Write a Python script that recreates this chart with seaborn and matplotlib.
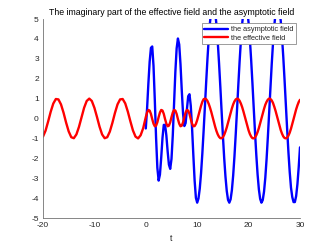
import numpy as np
import matplotlib
matplotlib.use("Agg")
import matplotlib.pyplot as plt
import seaborn as sns

# --- data ---
# effective field (red): t from -20 to -0.5 in steps of 0.5, then 0..30 in steps of 0.25
t_neg = np.arange(-20, 0, 0.5)
effective_neg = [-0.91, -0.61, -0.15, 0.34, 0.75, 0.98, 0.96, 0.71, 0.29, -0.21,
                 -0.65, -0.94, -0.99, -0.80, -0.42, 0.07, 0.54, 0.88, 1.00, 0.88,
                 0.54, 0.08, -0.41, -0.80, -0.99, -0.94, -0.66, -0.22, 0.28, 0.71,
                 0.96, 0.98, 0.76, 0.35, -0.14, -0.60, -0.91, -1.00, -0.84, -0.48]

t_pos = np.arange(0, 30.001, 0.25)
effective_pos = [0.07, 0.30, 0.43, 0.40, 0.23, -0.03, -0.26, -0.39, -0.36, -0.19,
                 0.07, 0.30, 0.43, 0.40, 0.23, -0.03, -0.26, -0.39, -0.36, -0.19,
                 0.07, 0.30, 0.43, 0.40, 0.23, -0.03, -0.26, -0.39, -0.36, -0.19,
                 0.07, 0.30, 0.43, 0.40, 0.23, -0.03, -0.26, -0.39,
                 -0.38, -0.27, -0.08, 0.15, 0.40, 0.64, 0.84, 0.97,
                 1.00, 0.97, 0.88, 0.73, 0.54, 0.32, 0.07, -0.18, -0.42, -0.63,
                 -0.80, -0.92, -0.99, -0.99, -0.94, -0.82, -0.65, -0.45, -0.21, 0.04,
                 0.28, 0.51, 0.71, 0.86, 0.96, 1.00, 0.98, 0.89, 0.75, 0.57,
                 0.35, 0.11, -0.15, -0.39, -0.60, -0.78, -0.91, -0.99, -1.00, -0.95,
                 -0.84, -0.68, -0.48, -0.25, 0.00, 0.25, 0.48, 0.69, 0.84, 0.95,
                 1.00, 0.98, 0.91, 0.78, 0.59, 0.38, 0.14, -0.11, -0.36, -0.58,
                 -0.76, -0.90, -0.98, -1.00, -0.96, -0.86, -0.71, -0.51, -0.28, -0.03,
                 0.22, 0.46, 0.66, 0.83, 0.94]

# asymptotic field (blue): t from 0 to 30 in steps of 0.25
asymptotic = [-0.50, 0.50, 1.75, 2.85, 3.55, 3.62, 2.65, 0.95, -0.97, -2.48,
              -3.12, -2.82, -1.97, -0.97, -0.32, -0.32, -0.85, -1.65, -2.32, -2.53,
              -2.03, -0.85, 0.75, 2.33, 3.52, 4.02, 3.72, 2.73, 1.41, 0.24,
              -0.38, -0.23, 0.46, 1.12, 1.22, 0.64, -0.47, -1.84, -3.12, -3.99,
              -4.23, -4.02, -3.52, -2.75, -1.76, -0.62, 0.60, 1.84, 3.01, 4.04,
              4.86, 5.43, 5.70, 5.67, 5.34, 4.71, 3.85, 2.78, 1.60, 0.36,
              -0.86, -1.98, -2.92, -3.64, -4.09, -4.23, -4.06, -3.60, -2.86, -1.90,
              -0.78, 0.44, 1.68, 2.86, 3.91, 4.76, 5.37, 5.69, 5.70, 5.40,
              4.81, 3.97, 2.93, 1.76, 0.52, -0.70, -1.83, -2.81, -3.56, -4.04,
              -4.23, -4.10, -3.68, -2.98, -2.04, -0.92, 0.29, 1.53, 2.73, 3.79,
              4.67, 5.31, 5.66, 5.72, 5.47, 4.92, 4.10, 3.08, 1.92, 0.69,
              -0.54, -1.69, -2.69, -3.48, -3.95, -4.20, -4.20, -3.90, -3.30, -2.45,
              -1.45]

x_ticks = [-20, -10, 0, 10, 20, 30]
y_ticks = [-5, -4, -3, -2, -1, 0, 1, 2, 3, 4, 5]

t_eff = np.concatenate([t_neg, t_pos])
effective = effective_neg + effective_pos

sns.set_theme(style="white")
plt.rcParams['font.family'] = ['Liberation Sans', 'DejaVu Sans']
plt.rcParams['axes.unicode_minus'] = False

fig = plt.figure(figsize=(3.32, 2.45), dpi=100)
ax = fig.add_axes([0.1295, 0.1102, 0.7741, 0.8122])

sns.lineplot(x=t_pos, y=asymptotic, color='#0000ff', linewidth=1.7,
             label='the asymptotic field', ax=ax, sort=False, estimator=None)
sns.lineplot(x=t_eff, y=effective, color='#ff0000', linewidth=1.7,
             label='the effective field', ax=ax, sort=False, estimator=None)

ax.set_xlim(-20, 30)
ax.set_ylim(-5, 5)
ax.set_xticks(x_ticks)
ax.set_yticks(y_ticks)
ax.tick_params(direction='in', length=2.2, width=0.5, color='0.4',
               labelsize=6, labelcolor='0.15', pad=3)

for side in ['top', 'right']:
    ax.spines[side].set_visible(False)
for side in ['left', 'bottom']:
    ax.spines[side].set_color('0.45')
    ax.spines[side].set_linewidth(0.6)

ax.set_title('The imaginary part of the effective field and the asymptotic field',
             fontsize=6.3, color='black', pad=3)
ax.set_xlabel('t', fontsize=6.3, color='0.15', labelpad=3.5)
ax.set_ylabel('')

leg = ax.legend(loc='upper right', fontsize=5.3, frameon=True, fancybox=False,
                edgecolor='0.55', framealpha=1, handlelength=3.2, borderpad=0.35,
                labelspacing=0.2, handletextpad=0.4, borderaxespad=0.6)
leg.get_frame().set_linewidth(0.6)

fig.savefig('out.png', dpi=100)
